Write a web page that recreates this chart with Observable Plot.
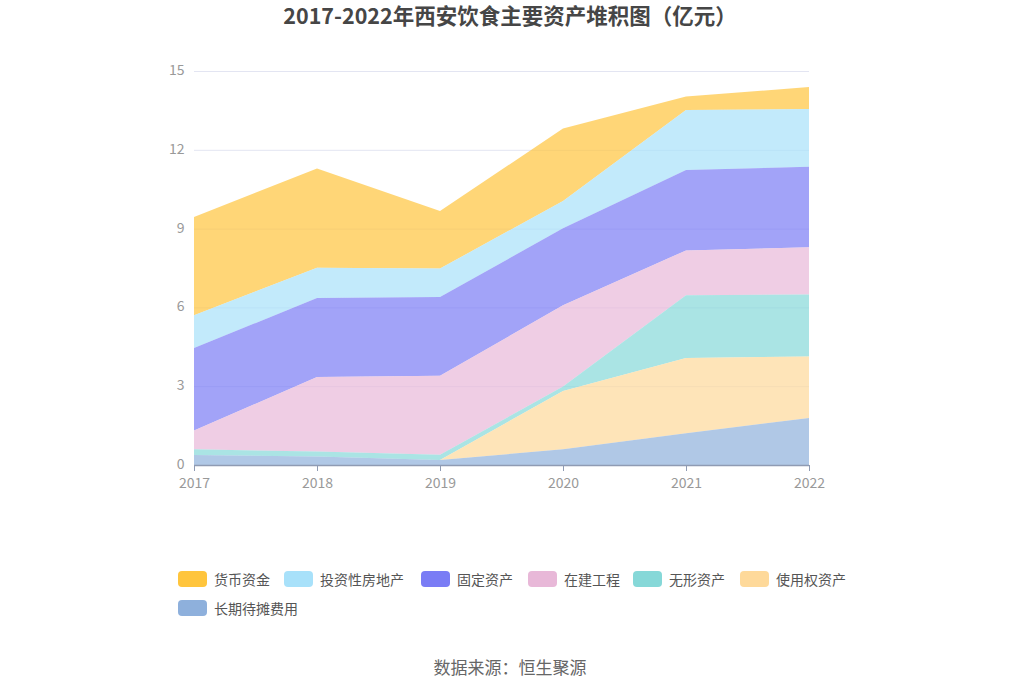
<!DOCTYPE html>
<html>
<head>
<meta charset="utf-8">
<script src="https://cdn.jsdelivr.net/npm/d3@7"></script>
<script src="https://cdn.jsdelivr.net/npm/@observablehq/plot@0.6"></script>
<style>
  html, body { margin: 0; padding: 0; background: #fff; }
  body { width: 1020px; height: 690px; position: relative; overflow: hidden;
         font-family: "Noto Sans CJK SC", "Noto Sans", sans-serif; }
  #title { position: absolute; left: 0; top: 1px; width: 1020px; text-align: center;
           font-size: 21.5px; font-weight: bold; color: #464646; line-height: 28px; }
  #chart { position: absolute; left: 0; top: 0; }
  .leg { position: absolute; display: flex; align-items: center; font-size: 14px; color: #555; white-space: nowrap; }
  .sw { width: 29px; height: 16px; border-radius: 4px; margin-right: 7px; }
  #caption { position: absolute; left: 0; top: 654px; width: 1020px; text-align: center;
             font-size: 17px; color: #666; }
</style>
</head>
<body>
<div id="chart"></div>
<div id="title">2017-2022年西安饮食主要资产堆积图（亿元）</div>
<div id="legend"></div>
<div id="caption">数据来源：恒生聚源</div>
<script>
const years = [2017, 2018, 2019, 2020, 2021, 2022];
const seriesNames = ["货币资金", "投资性房地产", "固定资产", "在建工程", "无形资产", "使用权资产", "长期待摊费用"];
const seriesColors = ["#ffc53d", "#a8e1fa", "#7a7cf5", "#e8b8d8", "#86d8d8", "#fed99a", "#8eb0dc"];
const cash       = [3.74, 3.78, 2.19, 2.76, 0.51, 0.84];
const invProp    = [1.25, 1.15, 1.08, 1.04, 2.29, 2.20];
const fixedAsset = [3.14, 3.01, 3.00, 2.93, 3.06, 3.06];
const cip        = [0.71, 2.84, 3.01, 3.09, 1.71, 1.80];
const intangible = [0.22, 0.19, 0.20, 0.17, 2.39, 2.36];
const rightOfUse = [0.00, 0.00, 0.00, 2.22, 2.86, 2.34];
const longTerm   = [0.38, 0.32, 0.19, 0.60, 1.21, 1.79];
const yTicks = [0, 3, 6, 9, 12, 15];

const seriesValues = [cash, invProp, fixedAsset, cip, intangible, rightOfUse, longTerm];
const rows = [];
seriesNames.forEach((name, i) => {
  years.forEach((yr, j) => rows.push({series: name, year: yr, value: seriesValues[i][j]}));
});
const stackOrder = seriesNames.slice().reverse();

const plot = Plot.plot({
  width: 1020,
  height: 520,
  marginLeft: 194,
  marginRight: 211,
  marginTop: 71,
  marginBottom: 55,
  style: {fontFamily: '"Noto Sans CJK SC", "Noto Sans", sans-serif', fontSize: "14px", color: "#999", background: "transparent"},
  x: {type: "linear", domain: [2017, 2022], ticks: years, tickFormat: "d"},
  y: {domain: [0, 15], ticks: yTicks},
  color: {domain: seriesNames, range: seriesColors},
  marks: [
    Plot.ruleY(yTicks.filter(d => d > 0), {stroke: "#e3e5f2", strokeWidth: 1}),
    Plot.areaY(rows, {x: "year", y: "value", z: "series", fill: "series", fillOpacity: 0.7, order: stackOrder, curve: "linear"}),
    Plot.ruleY([0], {stroke: "#8f9bb3", strokeWidth: 1.5}),
    Plot.axisX({ticks: years, tickFormat: "d", tickSize: 6, stroke: "#8f9bb3", tickPadding: 7, fill: "#999", label: null}),
    Plot.axisY({ticks: yTicks, tickSize: 0, tickPadding: 10, dy: -1, fill: "#999", label: null})
  ]
});
document.getElementById("chart").appendChild(plot);

const legendPos = [[178, 571], [284, 571], [421, 571], [528, 571], [633, 571], [740, 571], [178, 600]];
const legend = document.getElementById("legend");
seriesNames.forEach((name, i) => {
  const item = document.createElement("div");
  item.className = "leg";
  item.style.left = legendPos[i][0] + "px";
  item.style.top = (legendPos[i][1] - 2) + "px";
  item.style.height = "20px";
  const sw = document.createElement("div");
  sw.className = "sw";
  sw.style.background = seriesColors[i];
  item.appendChild(sw);
  const t = document.createElement("span");
  t.textContent = name;
  item.appendChild(t);
  legend.appendChild(item);
});
</script>
</body>
</html>
